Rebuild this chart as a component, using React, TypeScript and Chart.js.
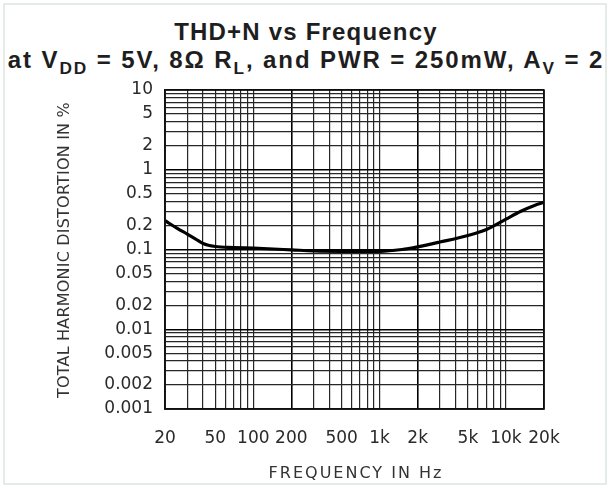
import React, { useEffect, useRef } from 'react';
import { Chart, registerables } from 'chart.js';

Chart.register(...registerables);

// ---- data ----
const FREQ_HZ = [20, 25, 30, 35, 40, 50, 70, 100, 200, 300, 500, 1000, 1500, 2000, 3000, 5000, 7000, 10000, 13000, 17000, 20000];
const THDN_PCT = [0.23, 0.184, 0.156, 0.135, 0.119, 0.109, 0.106, 0.104, 0.099, 0.096, 0.095, 0.095, 0.1, 0.108, 0.124, 0.15, 0.178, 0.24, 0.3, 0.36, 0.39];

const X_MIN = 20;
const X_MAX = 20000;
const Y_MIN = 0.001;
const Y_MAX = 10;

const X_LABEL_VALUES = [20, 50, 100, 200, 500, 1000, 2000, 5000, 10000, 20000];
const X_LABEL_TEXT = ['20', '50', '100', '200', '500', '1k', '2k', '5k', '10k', '20k'];
const Y_LABEL_VALUES = [10, 5, 2, 1, 0.5, 0.2, 0.1, 0.05, 0.02, 0.01, 0.005, 0.002, 0.001];
const Y_LABEL_TEXT = ['10', '5', '2', '1', '0.5', '0.2', '0.1', '0.05', '0.02', '0.01', '0.005', '0.002', '0.001'];

const X_TITLE = 'FREQUENCY IN Hz';
const Y_TITLE = 'TOTAL HARMONIC DISTORTION IN %';

function logGrid(min: number, max: number): number[] {
  const out: number[] = [];
  const k0 = Math.floor(Math.log10(min)) - 1;
  const k1 = Math.ceil(Math.log10(max)) + 1;
  for (let k = k0; k <= k1; k++) {
    for (let m = 1; m <= 9; m++) {
      const v = parseFloat((m * Math.pow(10, k)).toPrecision(6));
      if (v >= min * (1 - 1e-9) && v <= max * (1 + 1e-9)) out.push(v);
    }
  }
  return out;
}

function findLabel(values: number[], texts: string[], v: number): string {
  for (let i = 0; i < values.length; i++) {
    if (Math.abs(values[i] - v) / values[i] < 1e-6) return texts[i];
  }
  return '';
}

const isDecade = (v: number) => {
  const l = Math.log10(v);
  return Math.abs(l - Math.round(l)) < 1e-6;
};
const isXMajor = (v: number) => {
  const l = Math.log10(v / 2);
  return Math.abs(l - Math.round(l)) < 1e-6;
};

const CHART_LEFT = 165;
const CHART_RIGHT = 544;
const CHART_TOP = 90;
const CHART_BOTTOM = 409;
const W = 612;
const H = 489;

const axisTitlePlugin = {
  id: 'axisTitles',
  afterDraw(chart: any) {
    const ctx = chart.ctx as CanvasRenderingContext2D;
    const ca = chart.chartArea;
    ctx.save();
    ctx.strokeStyle = '#111';
    ctx.lineWidth = 1.5;
    ctx.strokeRect(ca.left, ca.top, ca.right - ca.left, ca.bottom - ca.top);

    ctx.fillStyle = '#333';
    ctx.font = '16px "DejaVu Sans"';
    ctx.textAlign = 'center';
    ctx.textBaseline = 'middle';
    (ctx as any).letterSpacing = '2px';
    ctx.fillText(X_TITLE, 356, 474);
    (ctx as any).letterSpacing = '0.2px';
    ctx.translate(65, 250);
    ctx.rotate(-Math.PI / 2);
    ctx.fillText(Y_TITLE, 0, 0);
    ctx.restore();
  },
};

export default function App() {
  const canvasRef = useRef<HTMLCanvasElement | null>(null);

  useEffect(() => {
    const canvas = canvasRef.current;
    if (!canvas) return;
    const xGrid = logGrid(X_MIN, X_MAX);
    const yGrid = logGrid(Y_MIN, Y_MAX);
    const tickFont = { family: '"DejaVu Sans"', size: 17 };

    const chart = new Chart(canvas, {
      type: 'line',
      data: {
        datasets: [
          {
            label: 'THD+N',
            data: FREQ_HZ.map((f, i) => ({ x: f, y: THDN_PCT[i] })),
            borderColor: '#000',
            borderWidth: 3.2,
            pointRadius: 0,
            fill: false,
            cubicInterpolationMode: 'monotone',
          },
        ],
      },
      options: {
        animation: false,
        responsive: false,
        maintainAspectRatio: false,
        devicePixelRatio: 1,
        layout: {
          padding: { left: 0, top: CHART_TOP, right: W - CHART_RIGHT, bottom: 0 },
        },
        plugins: {
          legend: { display: false },
          title: { display: false },
          tooltip: { enabled: false },
        },
        scales: {
          x: {
            type: 'logarithmic',
            min: X_MIN,
            max: X_MAX,
            afterBuildTicks: (scale: any) => {
              scale.ticks = xGrid.map((v) => ({ value: v }));
            },
            afterFit: (scale: any) => {
              scale.height = H - CHART_BOTTOM;
            },
            ticks: {
              autoSkip: false,
              maxRotation: 0,
              minRotation: 0,
              padding: 19,
              color: '#2a2a2a',
              font: tickFont,
              callback: (value: any) => findLabel(X_LABEL_VALUES, X_LABEL_TEXT, Number(value)),
            },
            grid: {
              drawTicks: false,
              color: (c: any) => (c.tick && isXMajor(c.tick.value) ? '#000' : '#262626'),
              lineWidth: (c: any) => (c.tick && isXMajor(c.tick.value) ? 1.6 : 1.2),
            },
            border: { display: true, color: '#111', width: 1.5 },
          },
          y: {
            type: 'logarithmic',
            min: Y_MIN,
            max: Y_MAX,
            afterBuildTicks: (scale: any) => {
              scale.ticks = yGrid.map((v) => ({ value: v }));
            },
            afterFit: (scale: any) => {
              scale.width = CHART_LEFT;
            },
            ticks: {
              autoSkip: false,
              padding: 12,
              color: '#2a2a2a',
              font: tickFont,
              callback: (value: any) => findLabel(Y_LABEL_VALUES, Y_LABEL_TEXT, Number(value)),
            },
            grid: {
              drawTicks: false,
              color: (c: any) => (c.tick && isDecade(c.tick.value) ? '#000' : '#262626'),
              lineWidth: (c: any) => (c.tick && isDecade(c.tick.value) ? 1.4 : 1.2),
            },
            border: { display: true, color: '#111', width: 1.5 },
          },
        },
      },
      plugins: [axisTitlePlugin],
    } as any);

    return () => {
      chart.destroy();
    };
  }, []);

  const titleStyle: React.CSSProperties = {
    position: 'absolute',
    left: 0,
    width: W,
    textAlign: 'center',
    fontFamily: '"Liberation Sans", Arial, sans-serif',
    fontWeight: 'bold',
    fontSize: 24,
    lineHeight: '24px',
    color: '#1e1e1e',
    whiteSpace: 'nowrap',
  };
  const sub: React.CSSProperties = { fontSize: '0.72em', position: 'relative', top: '0.32em' };

  return (
    <div style={{ position: 'fixed', left: 0, top: 0, width: W, height: H, background: '#fff', overflow: 'hidden' }}>
      <div
        style={{
          position: 'absolute',
          left: 3,
          top: 3,
          width: W - 8,
          height: H - 7,
          border: '2px solid #e4ece8',
          boxSizing: 'border-box',
        }}
      />
      <div style={{ ...titleStyle, top: 20, letterSpacing: '1.2px' }}>THD+N vs Frequency</div>
      <div style={{ ...titleStyle, top: 48, letterSpacing: '1.9px' }}>
        at V<span style={sub}>DD</span> = 5V, 8Ω R<span style={sub}>L</span>, and PWR = 250mW, A
        <span style={sub}>V</span> = 2
      </div>
      <canvas ref={canvasRef} width={W} height={H} style={{ position: 'absolute', left: 0, top: 0, display: 'block' }} />
    </div>
  );
}
